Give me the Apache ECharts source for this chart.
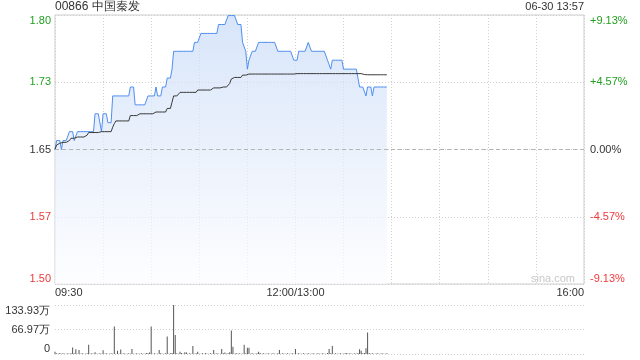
<!DOCTYPE html>
<html><head><meta charset="utf-8">
<script src="https://cdn.jsdelivr.net/npm/echarts@6.0.0/dist/echarts.min.js"></script>
<style>html,body{margin:0;padding:0;background:#fff}#c{width:640px;height:360px}</style>
</head><body><div id="c"></div>
<script>
const stockTitle = '00866 中国秦发';
const stampText = '06-30 13:57';
const watermark = 'sina.com';
const prevClose = 1.65;
const totalMinutes = 330;
const pctRange = 9.13;
const volMax = 133.93;

// one value per minute from 09:30 (index 0) to 13:57 (index 207)
const prices = [
1.65,1.66,1.66,1.66,1.65,1.66,1.66,1.66,1.66,1.67,
1.67,1.67,1.66,1.66,1.67,1.67,1.67,1.67,1.67,1.67,
1.67,1.67,1.67,1.67,1.67,1.69,1.69,1.69,1.69,1.67,
1.69,1.69,1.69,1.68,1.68,1.68,1.71,1.71,1.71,1.71,
1.71,1.71,1.71,1.71,1.71,1.71,1.71,1.72,1.72,1.72,
1.70,1.70,1.70,1.70,1.70,1.70,1.70,1.70,1.71,1.71,
1.71,1.71,1.71,1.72,1.71,1.71,1.71,1.72,1.72,1.72,
1.73,1.73,1.73,1.74,1.76,1.76,1.76,1.76,1.76,1.76,
1.76,1.76,1.76,1.76,1.76,1.76,1.76,1.77,1.77,1.77,
1.77,1.78,1.78,1.78,1.78,1.78,1.78,1.78,1.78,1.78,
1.78,1.78,1.79,1.79,1.79,1.79,1.79,1.79,1.80,1.80,
1.80,1.80,1.80,1.80,1.79,1.79,1.79,1.77,1.77,1.76,
1.74,1.75,1.75,1.76,1.76,1.76,1.76,1.77,1.77,1.77,
1.77,1.77,1.77,1.77,1.77,1.77,1.77,1.77,1.77,1.76,
1.76,1.76,1.76,1.76,1.76,1.76,1.76,1.76,1.76,1.75,
1.75,1.75,1.76,1.76,1.76,1.76,1.76,1.76,1.77,1.77,
1.76,1.76,1.76,1.76,1.76,1.76,1.76,1.76,1.76,1.76,
1.75,1.75,1.74,1.75,1.75,1.75,1.75,1.75,1.75,1.75,
1.74,1.74,1.74,1.74,1.74,1.74,1.74,1.74,1.74,1.74,
1.72,1.72,1.72,1.72,1.71,1.72,1.72,1.72,1.71,1.72,
1.72,1.72,1.72,1.72,1.72,1.72,1.72,1.72
];

const avgPrices = [
1.650,1.655,1.656,1.657,1.658,1.658,1.658,1.658,1.658,1.660,
1.6626,1.6626,1.6626,1.6626,1.664,1.664,1.664,1.664,1.664,1.664,
1.666,1.669,1.669,1.669,1.669,1.669,1.669,1.669,1.669,1.670,
1.670,1.670,1.670,1.670,1.670,1.670,1.675,1.679,1.682,1.682,
1.682,1.682,1.682,1.682,1.682,1.682,1.682,1.688,1.688,1.688,
1.688,1.688,1.688,1.690,1.690,1.690,1.690,1.690,1.690,1.690,
1.690,1.690,1.690,1.692,1.692,1.692,1.692,1.692,1.692,1.692,
1.696,1.696,1.696,1.703,1.710,1.710,1.710,1.710,1.714,1.714,
1.714,1.714,1.714,1.714,1.714,1.714,1.714,1.714,1.714,1.7166,
1.7166,1.7166,1.7166,1.7166,1.7166,1.7166,1.7166,1.7166,1.7166,1.719,
1.719,1.719,1.719,1.719,1.720,1.720,1.720,1.720,1.720,1.724,
1.729,1.7307,1.7307,1.7307,1.7307,1.7307,1.7307,1.7333,1.7333,1.7333,
1.7345,1.7345,1.7345,1.7345,1.7345,1.7345,1.7345,1.7345,1.7345,1.7345,
1.7345,1.7345,1.7345,1.7345,1.7345,1.7345,1.7345,1.7345,1.7345,1.7345,
1.7345,1.7345,1.7345,1.7345,1.7345,1.7345,1.7345,1.7345,1.7345,1.7345,
1.735,1.735,1.735,1.735,1.735,1.735,1.735,1.735,1.735,1.735,
1.735,1.735,1.735,1.735,1.735,1.735,1.735,1.735,1.735,1.735,
1.735,1.735,1.735,1.735,1.735,1.735,1.735,1.735,1.735,1.735,
1.735,1.735,1.735,1.735,1.735,1.735,1.735,1.735,1.735,1.735,
1.735,1.735,1.734,1.734,1.7337,1.7337,1.7337,1.7337,1.7337,1.7337,
1.7337,1.7337,1.7337,1.7337,1.7337,1.7337,1.7337,1.7337
];

// volume per minute, in 万
const volumes = [
6,2,1,3,1,2,1,1,2,1,
2,18,2,13,1,11,1,2,1,1,
2,25,1,2,1,5,1,1,2,1,
10,1,2,1,1,2,1,75,1,9,
1,12,1,2,1,1,2,1,14,1,
1,2,1,1,2,1,1,3,2,4,
75,1,2,1,1,11,2,1,1,2,
48,1,2,3,133.93,52,2,1,6,3,
1,5,4,1,2,1,22,1,2,6,
1,1,2,1,3,1,1,2,1,11,
1,2,1,1,14,2,4,1,2,5,
64,20,1,3,1,2,1,1,25,2,
17,17,1,2,1,1,2,6,3,1,
2,1,1,2,1,1,2,1,1,2,
11,1,2,1,1,2,1,1,2,1,
14,1,2,1,1,2,1,1,2,1,
1,2,1,1,2,1,1,2,1,1,
3,14,2,22,1,2,1,1,2,1,
1,2,3,1,2,1,1,2,1,3,
13,9,2,3,16,59,3,1,2,1,
1,2,1,1,2,1,1,2
];

const priceTickLabels = ['1.50','1.57','1.65','1.73','1.80'];
const pctTickLabels = ['-9.13%','-4.57%','0.00%','+4.57%','+9.13%'];
const volTickLabels = ['0','66.97万','133.93万'];
const timeTickLabels = {0:'09:30', 150:'12:00/13:00', 330:'16:00'};

const FONT = '"Liberation Sans", Arial, sans-serif';
const UP = '#22a022', DOWN = '#f03a3a', FLAT = '#333';
const pct = p => (p / prevClose - 1) * 100;
const step = pctRange / 2;
const tickIdx = v => Math.round(v / step) + 2;
const tickColor = v => { const i = tickIdx(v); return i > 2 ? UP : (i < 2 ? DOWN : FLAT); };

const chart = echarts.init(document.getElementById('c'), null, {renderer: 'canvas'});
chart.setOption({
  animation: false,
  backgroundColor: '#fff',
  textStyle: {fontFamily: FONT},
  title: [
    {text: stockTitle, left: 55, top: 1, padding: 0,
     textStyle: {fontSize: 12, fontWeight: 'normal', color: '#333', fontFamily: FONT}},
    {text: stampText, right: 56, top: 1, padding: 0,
     textStyle: {fontSize: 11, fontWeight: 'normal', color: '#333', fontFamily: FONT}}
  ],
  graphic: [{type: 'text', left: 531, top: 273, silent: true,
    style: {text: watermark, fill: '#c8c8c8', font: '11px ' + FONT}}],
  grid: [
    {left: 55, right: 56, top: 15, height: 269, show: true, borderColor: '#cfcfcf', borderWidth: 1,
     containLabel: false, outerBoundsMode: 'none'},
    {left: 55, right: 56, top: 305, height: 49, show: false, containLabel: false, outerBoundsMode: 'none'}
  ],
  xAxis: [
    {type: 'value', gridIndex: 0, min: 0, max: totalMinutes, interval: 30,
     axisLine: {show: false}, axisTick: {show: false},
     splitLine: {show: true, lineStyle: {color: '#cfcfcf', type: [1, 2], width: 1}},
     axisLabel: {show: true, margin: 3, fontSize: 11, color: '#333', fontFamily: FONT,
       alignMinLabel: 'left', alignMaxLabel: 'right',
       formatter: v => timeTickLabels[v] || ''}},
    {type: 'value', gridIndex: 1, min: 0, max: totalMinutes, interval: 30,
     axisLine: {show: false}, axisTick: {show: false}, splitLine: {show: false},
     axisLabel: {show: false}}
  ],
  yAxis: [
    {type: 'value', gridIndex: 0, position: 'left', min: -pctRange, max: pctRange, interval: step,
     axisLine: {show: false}, axisTick: {show: false},
     splitLine: {show: true, lineStyle: {color: '#cfcfcf', type: [1, 2], width: 1}},
     axisLabel: {margin: 4, fontSize: 11, fontFamily: FONT, color: tickColor,
       verticalAlignMinLabel: 'bottom', verticalAlignMaxLabel: 'top',
       formatter: v => priceTickLabels[tickIdx(v)]}},
    {type: 'value', gridIndex: 0, position: 'right', min: -pctRange, max: pctRange, interval: step,
     axisLine: {show: false}, axisTick: {show: false}, splitLine: {show: false},
     axisLabel: {margin: 6, fontSize: 11, fontFamily: FONT, color: tickColor,
       verticalAlignMinLabel: 'bottom', verticalAlignMaxLabel: 'top',
       formatter: v => pctTickLabels[tickIdx(v)]}},
    {type: 'value', gridIndex: 1, min: 0, max: volMax, interval: volMax / 2,
     axisLine: {show: false}, axisTick: {show: false},
     splitLine: {show: true, lineStyle: {color: '#cfcfcf', type: [1, 2], width: 1}},
     axisLabel: {margin: 5, fontSize: 11, fontFamily: FONT, color: '#333',
       verticalAlignMinLabel: 'bottom', verticalAlignMaxLabel: 'top',
       formatter: v => volTickLabels[Math.round(v / (volMax / 2))]}}
  ],
  series: [
    {type: 'line', name: 'price', xAxisIndex: 0, yAxisIndex: 0,
     data: prices.map((p, i) => [i, pct(p)]),
     symbol: 'none', smooth: false,
     lineStyle: {color: '#4f8ef0', width: 1},
     areaStyle: {origin: 'start', color: new echarts.graphic.LinearGradient(0, 0, 0, 1, [
       {offset: 0, color: '#c7daf7'}, {offset: 0.5, color: '#e3ecfb'}, {offset: 1, color: '#fcfdff'}])},
     markLine: {silent: true, symbol: ['none', 'none'], label: {show: false},
       lineStyle: {color: '#b5b5b5', type: [4, 3], width: 1}, data: [{yAxis: 0}]},
     z: 2},
    {type: 'line', name: 'avg', xAxisIndex: 0, yAxisIndex: 0,
     data: avgPrices.map((p, i) => [i, pct(p)]),
     symbol: 'none', smooth: false,
     lineStyle: {color: '#3a3a3a', width: 1}, z: 3},
    {type: 'bar', name: 'vol', xAxisIndex: 1, yAxisIndex: 2,
     data: volumes.map((v, i) => [i, v]),
     barWidth: 1, itemStyle: {color: '#555'}}
  ]
});
</script></body></html>
